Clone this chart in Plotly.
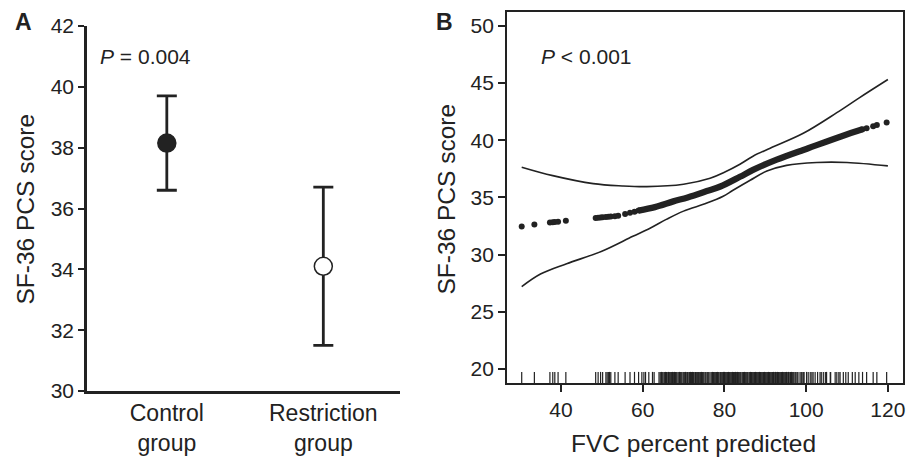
import plotly.graph_objects as go

# ---------------- Panel A data ----------------
groups = ["Control<br>group", "Restriction<br>group"]
group_pos = [1, 2]
means = [38.15, 34.1]
upper = [39.7, 36.7]
lower = [36.6, 31.5]

# ---------------- Panel B data ----------------
rug_x = [30.4, 33.5, 37.3, 38.0, 38.5, 39.3, 41.2,
         48.5, 49.1, 49.7, 50.2, 51.0, 51.3, 51.6, 51.9, 52.2, 53.2, 54.0, 55.7, 56.9, 58.0, 59.0, 59.8,
         60.3, 60.7, 61.5, 62.4, 62.8, 64.0, 64.9, 65.2, 65.6, 66.0, 66.3, 66.7, 67.1, 67.5, 68.0, 68.4,
         69.2, 69.6, 70.1, 70.5, 71.3, 71.7, 72.0, 72.4, 72.9, 73.3, 73.6, 74.0, 74.4, 74.8, 75.5, 76.2,
         76.9, 77.3, 77.7, 78.1, 78.5, 79.0, 79.4, 79.8, 80.4, 80.8, 81.2, 81.6, 82.0, 82.5, 83.0, 83.4,
         83.8, 84.3, 84.7, 85.1, 85.5, 86.0, 86.4, 86.8, 87.2, 87.6, 88.0, 88.4, 88.8, 89.2, 89.6, 90.0,
         90.4, 90.8, 91.2, 91.6, 92.0, 92.5, 93.0, 93.4, 93.8, 94.2, 94.6, 95.0, 95.5, 96.0, 96.4, 96.8,
         97.3, 97.8, 98.5, 99.3, 100.1, 101.0, 101.4, 102.2, 102.8, 103.4, 104.2, 105.0, 105.9, 107.1,
         107.5, 108.3, 109.1, 109.7, 110.3, 111.3, 112.0, 112.9, 113.8, 114.8, 116.4, 117.3, 119.7,
         64.3, 64.6, 65.4, 65.8, 66.5, 66.9, 67.3, 67.8, 68.2, 68.7, 69.0, 69.4, 69.9, 70.3, 70.8, 71.0,
         71.5, 71.9, 72.2, 72.6, 73.1, 73.5, 73.8, 74.2, 74.6, 75.0, 75.3, 75.8, 76.0, 76.5, 77.1, 77.5,
         77.9, 78.3, 78.7, 79.2, 79.6, 80.0, 80.2, 80.6, 81.0, 81.4, 81.8, 82.2, 82.7, 83.2, 83.6, 84.0,
         84.5, 84.9, 85.3, 85.7, 86.2, 86.6, 87.0, 87.4, 87.8, 88.2, 88.6, 89.0, 89.4, 89.8, 90.2, 90.6,
         91.0, 91.4, 91.8, 92.2, 92.7, 93.2, 93.6, 94.0, 94.4, 94.8, 95.2, 95.7, 96.2, 96.6, 97.0, 97.5,
         98.0, 98.8, 99.0, 99.5, 100.5, 101.7, 103.7, 104.7, 106.0, 108.0]

# fitted values shown as separate dots where observations are sparse
dots_x = [30.4, 33.5, 37.3, 38.0, 38.5, 39.3, 41.2, 48.5, 49.1, 49.7, 50.2, 51.0, 51.6, 52.2,
          53.2, 54.0, 55.7, 56.9, 58.0, 59.0, 113.8, 114.8, 116.4, 117.3, 119.7]
dots_y = [32.45, 32.62, 32.8, 32.83, 32.85, 32.88, 32.95, 33.2, 33.22, 33.24, 33.26, 33.28, 33.3,
          33.32, 33.36, 33.4, 33.55, 33.65, 33.75, 33.85, 40.95, 41.05, 41.22, 41.32, 41.55]

# fitted curve where observations are dense
fit_x = [59.0, 63.0, 67.5, 71.0, 75.7, 79.0, 83.8, 87.0, 92.8, 100.5, 108.7, 113.8]
fit_y = [33.85, 34.15, 34.65, 35.0, 35.55, 35.95, 36.8, 37.4, 38.3, 39.3, 40.35, 40.95]

ci_up_x = [30.4, 38.0, 47.9, 55.0, 61.0, 70.0, 76.5, 80.0, 83.8, 87.0, 91.2, 99.3, 107.5, 113.0, 120.0]
ci_up_y = [37.64, 36.9, 36.2, 36.0, 35.94, 36.15, 36.67, 37.2, 37.9, 38.6, 39.3, 40.6, 42.4, 43.7, 45.3]
ci_lo_x = [30.4, 35.0, 41.4, 50.0, 57.6, 61.8, 65.9, 70.0, 75.7, 79.7, 82.0, 86.3, 90.4, 95.2, 102.6, 110.0, 120.0]
ci_lo_y = [27.2, 28.3, 29.2, 30.3, 31.6, 32.3, 33.1, 33.8, 34.5, 35.1, 35.6, 36.5, 37.3, 37.8, 38.05, 38.05, 37.75]

INK = "#222222"
FONT = "Liberation Sans, Arial, sans-serif"
W, H = 909, 462

fig = go.Figure()

# Panel A
fig.add_trace(go.Scatter(
    x=group_pos, y=means, mode="markers",
    marker=dict(size=18, color=[INK, "white"], line=dict(color=INK, width=1.5)),
    error_y=dict(type="data", symmetric=False,
                 array=[u - m for u, m in zip(upper, means)],
                 arrayminus=[m - l for m, l in zip(means, lower)],
                 color=INK, thickness=2.8, width=10),
    xaxis="x", yaxis="y", showlegend=False, hoverinfo="skip"))

# Panel B: CI lines
fig.add_trace(go.Scatter(x=ci_up_x, y=ci_up_y, mode="lines", line=dict(color=INK, width=1.6, shape="spline"),
                         xaxis="x2", yaxis="y2", showlegend=False))
fig.add_trace(go.Scatter(x=ci_lo_x, y=ci_lo_y, mode="lines", line=dict(color=INK, width=1.6, shape="spline"),
                         xaxis="x2", yaxis="y2", showlegend=False))
# fitted band
fig.add_trace(go.Scatter(x=fit_x, y=fit_y, mode="lines", line=dict(color=INK, width=6.3, shape="spline"),
                         xaxis="x2", yaxis="y2", showlegend=False))
fig.add_trace(go.Scatter(x=dots_x, y=dots_y, mode="markers", marker=dict(color=INK, size=6),
                         xaxis="x2", yaxis="y2", showlegend=False))

# rug
y_lo, y_hi = 18.78, 19.75
rx, ry = [], []
for v in sorted(rug_x):
    rx += [v, v, None]
    ry += [y_lo, y_hi, None]
fig.add_trace(go.Scatter(x=rx, y=ry, mode="lines", line=dict(color="#222222", width=1.2),
                         xaxis="x2", yaxis="y2", showlegend=False))

tickfont = dict(family=FONT, size=21, color=INK)
catfont = dict(family=FONT, size=23, color=INK)
titlefont = dict(family=FONT, size=24.5, color=INK)

fig.update_layout(
    width=W, height=H,
    margin=dict(l=0, r=0, t=0, b=0, autoexpand=False),
    paper_bgcolor="white", plot_bgcolor="white",
    font=dict(family=FONT, color=INK),
    xaxis=dict(domain=[87 / W, 400 / W], range=[0.49, 2.49], tickvals=group_pos, ticktext=groups,
               showline=True, linecolor=INK, linewidth=2.5, ticks="", showgrid=False, zeroline=False,
               tickfont=catfont, anchor="y", automargin=False, ticklabelstandoff=0),
    yaxis=dict(domain=[(H - 391) / H, (H - 26) / H], range=[30, 42], tickvals=[30, 32, 34, 36, 38, 40, 42],
               showline=True, linecolor=INK, linewidth=2.5, ticks="outside", ticklen=6, tickwidth=2.2,
               tickcolor=INK, showgrid=False, zeroline=False, tickfont=tickfont, anchor="x",
               automargin=False),
    xaxis2=dict(domain=[507 / W, 903 / W], range=[26.8, 123.7], tickvals=[40, 60, 80, 100, 120],
                showline=True, mirror=True, linecolor=INK, linewidth=1.8, ticks="outside", ticklen=7,
                tickwidth=1.8, tickcolor=INK, showgrid=False, zeroline=False, tickfont=tickfont,
                anchor="y2", automargin=False, ticklabeloverflow="allow"),
    yaxis2=dict(domain=[(H - 383) / H, (H - 12) / H], range=[18.78, 51.2], tickvals=[20, 25, 30, 35, 40, 45, 50],
                showline=True, mirror=True, linecolor=INK, linewidth=1.8, ticks="outside", ticklen=7,
                tickwidth=1.8, tickcolor=INK, showgrid=False, zeroline=False, tickfont=tickfont,
                anchor="x2", automargin=False),
    annotations=[
        dict(text="<i>P</i> = 0.004", x=98 / W, y=(H - 56) / H, xref="paper", yref="paper",
             xanchor="left", yanchor="middle", showarrow=False, font=dict(family=FONT, size=21, color=INK)),
        dict(text="<i>P</i> < 0.001", x=539 / W, y=(H - 56) / H, xref="paper", yref="paper",
             xanchor="left", yanchor="middle", showarrow=False, font=dict(family=FONT, size=21, color=INK)),
        dict(text="<b>A</b>", x=23 / W, y=(H - 22) / H, xref="paper", yref="paper", xanchor="center",
             yanchor="middle", showarrow=False, font=dict(family=FONT, size=23, color=INK)),
        dict(text="<b>B</b>", x=444 / W, y=(H - 22) / H, xref="paper", yref="paper", xanchor="center",
             yanchor="middle", showarrow=False, font=dict(family=FONT, size=23, color=INK)),
        dict(text="SF-36 PCS score", textangle=-90, x=25 / W, y=(H - 209.5) / H, xref="paper", yref="paper",
             xanchor="center", yanchor="middle", showarrow=False, font=titlefont),
        dict(text="SF-36 PCS score", textangle=-90, x=446 / W, y=(H - 199.5) / H, xref="paper", yref="paper",
             xanchor="center", yanchor="middle", showarrow=False, font=titlefont),
        dict(text="FVC percent predicted", x=693 / W, y=(H - 443) / H, xref="paper", yref="paper",
             xanchor="center", yanchor="middle", showarrow=False, font=titlefont),
    ],
)

# remove the browser's default 8px page margin so the figure sits at the window's corner
fig.write_html("out.html", config={"displayModeBar": False},
               post_script="document.body.style.margin='0';")
